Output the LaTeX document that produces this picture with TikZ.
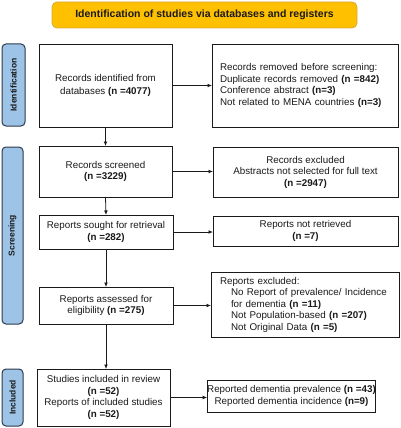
\documentclass[tikz,border=0pt]{standalone}
\usepackage{fontspec}
\setmainfont{Liberation Sans}
\usetikzlibrary{arrows.meta}
\definecolor{gold}{HTML}{FFC000}
\definecolor{goldline}{HTML}{D8A93A}
\definecolor{barfill}{HTML}{9DC3E6}
\definecolor{barline}{HTML}{2E3A4C}
\definecolor{ink}{HTML}{1A1A1A}
\begin{document}
\begin{tikzpicture}[x=1pt,y=-1pt,
  box/.style={draw=ink, line width=0.9pt, fill=white, inner sep=0pt, outer sep=0pt,
    align=center, text=ink, font=\fontsize{9.8}{11.5}\selectfont},
  lbox/.style={box, align=left, inner xsep=8pt},
  bar/.style={draw=barline, line width=1pt, fill=barfill, rounded corners=4pt,
    inner sep=0pt, outer sep=0pt},
  barlabel/.style={rotate=90, font=\fontsize{8.5}{10}\selectfont\bfseries, text=ink},
  banner/.style={draw=goldline, line width=0.8pt, fill=gold, rounded corners=5pt,
    inner sep=0pt, outer sep=0pt, font=\fontsize{10.5}{12}\selectfont\bfseries, text=ink},
  arr/.style={draw=ink, line width=0.8pt, -{Latex[length=4.5pt,width=3.8pt]}}]
\useasboundingbox (0,0) rectangle (400,428);

% banner
\node[banner, minimum width=305pt, minimum height=26pt] (title) at (204.5,15) {Identification of studies via databases and registers};

% side bars
\node[bar, minimum width=23pt, minimum height=82pt] (idbar) at (13.5,85) {};
\node[barlabel] (idlab) at (idbar.center) {Identification};
\node[bar, minimum width=21pt, minimum height=177pt] (scbar) at (12.5,235.5) {};
\node[barlabel] (sclab) at (scbar.center) {Screening};
\node[bar, minimum width=21pt, minimum height=57pt] (inbar) at (12.5,397.5) {};
\node[barlabel] (inlab) at (inbar.center) {Included};

% left column
\node[box, minimum width=133pt, minimum height=83pt, font=\fontsize{9.8}{13.5}\selectfont] (b1) at (105.5,85.5)
  {Records identified from\\databases \textbf{(n =4077)}};
\node[box, minimum width=133pt, minimum height=51pt] (b2) at (105.5,171.5)
  {Records screened\\\textbf{(n =3229)}};
\node[box, minimum width=134pt, minimum height=34pt] (b3) at (106,232)
  {Reports sought for retrieval\\\textbf{(n =282)}};
\node[box, minimum width=134pt, minimum height=37pt] (b4) at (106,305.5)
  {Reports assessed for\\eligibility \textbf{(n =275)}};
\node[box, minimum width=133pt, minimum height=57pt] (b5) at (103.5,397.5)
  {Studies included in review\\\textbf{(n =52)}\\Reports of included studies\\\textbf{(n =52)}};

% right column
\node[lbox, text width=170pt, minimum height=83pt] (r1) at (305,85.5)
  {Records removed before screening:\\Duplicate records removed \textbf{(n =842)}\\Conference abstract \textbf{(n=3)}\\Not related to MENA countries \textbf{(n=3)}};
\node[box, minimum width=185pt, minimum height=50pt] (r2) at (305.5,172)
  {Records excluded\\Abstracts not selected for full text\\\textbf{(n =2947)}};
\node[box, minimum width=185pt, minimum height=30pt] (r3) at (305.5,231)
  {Reports not retrieved\\\textbf{(n =7)}};
\node[lbox, text width=170pt, inner xsep=9pt, minimum height=65pt] (r4) at (305,304.5)
  {Reports excluded:\\\hspace*{11pt}No Report of prevalence/ Incidence\\\hspace*{11pt}for dementia \textbf{(n =11)}\\\hspace*{11pt}Not Population-based \textbf{(n =207)}\\\hspace*{11pt}Not Original Data \textbf{(n =5)}};
\node[box, minimum width=167pt, minimum height=32pt] (r5) at (291.5,396)
  {Reported dementia prevalence \textbf{(n =43)}\\Reported dementia incidence \textbf{(n=9)}};

% vertical arrows
\draw[arr] (b1.south) -- (b2.north);
\draw[arr] (b2.south) -- (b3.north);
\draw[arr] (b3.south) -- (b4.north);
\draw[arr] (b4.south) -- (b4.south |- b5.north);

% horizontal arrows
\draw[arr] (b1.east) -- (b1.east -| r1.west);
\draw[arr] (b2.east) -- (b2.east -| r2.west);
\draw[arr] (b3.east) -- (b3.east -| r3.west);
\draw[arr] (b4.east) -- (b4.east -| r4.west);
\draw[arr] (b5.east) -- (b5.east -| r5.west);
\end{tikzpicture}
\end{document}
